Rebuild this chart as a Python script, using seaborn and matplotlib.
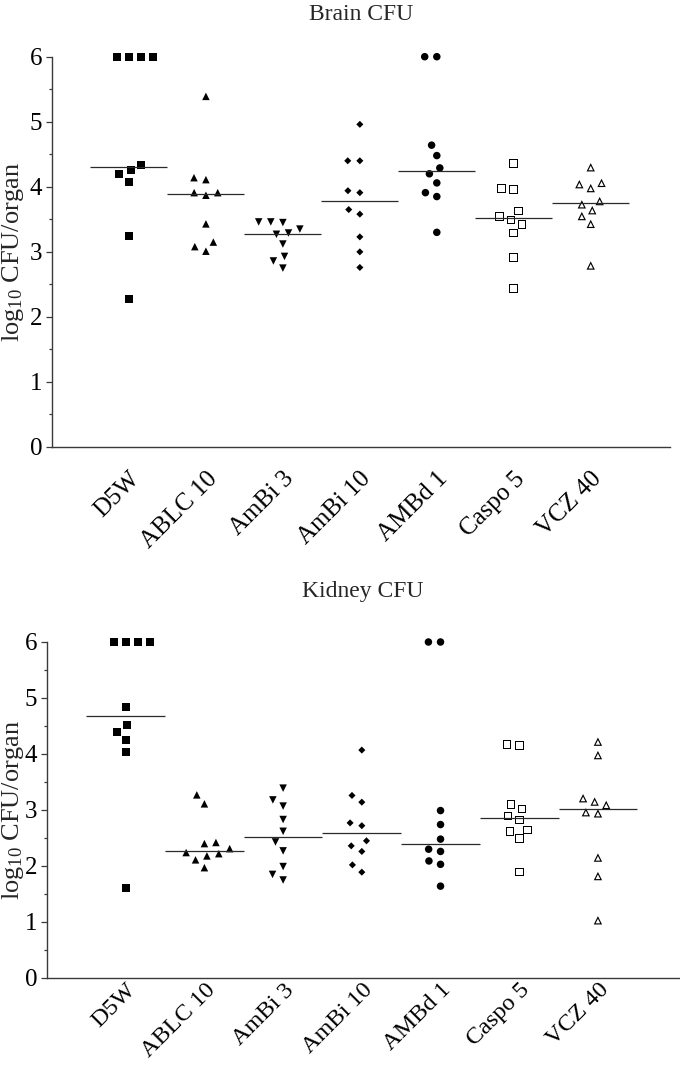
import numpy as np
import matplotlib
matplotlib.use("Agg")
import matplotlib.pyplot as plt
from matplotlib.path import Path
from matplotlib.markers import MarkerStyle
from matplotlib.ticker import MultipleLocator
import seaborn as sns

# ---------------- data (log10 CFU/organ) ----------------
categories = ["D5W", "ABLC 10", "AmBi 3", "AmBi 10", "AMBd 1", "Caspo 5", "VCZ 40"]

brain_cfu = [
    [6.0, 6.0, 6.0, 6.0, 4.34, 4.26, 4.19, 4.08, 3.24, 2.27],      # D5W
    [5.39, 4.14, 4.11, 3.91, 3.87, 3.91, 3.43, 3.15, 3.08, 3.01],  # ABLC 10
    [3.46, 3.46, 3.45, 3.35, 3.27, 3.29, 3.12, 2.93, 2.86, 2.75],  # AmBi 3
    [4.96, 4.40, 4.40, 3.91, 3.94, 3.65, 3.58, 3.23, 3.00, 2.76],  # AmBi 10
    [6.0, 6.0, 4.64, 4.48, 4.29, 4.20, 4.06, 3.91, 3.85, 3.30],    # AMBd 1
    [4.36, 3.96, 3.97, 3.63, 3.54, 3.49, 3.42, 3.29, 2.91, 2.44],  # Caspo 5
    [4.30, 4.04, 3.98, 4.06, 3.78, 3.73, 3.64, 3.55, 3.43, 2.79],  # VCZ 40
]

kidney_cfu = [
    [6.0, 6.0, 6.0, 6.0, 4.84, 4.51, 4.39, 4.25, 4.04, 1.60],      # D5W
    [3.27, 3.11, 2.31, 2.40, 2.42, 2.22, 2.18, 2.24, 2.11, 1.97],  # ABLC 10
    [3.39, 3.18, 3.07, 2.83, 2.62, 2.43, 2.27, 1.99, 1.85, 1.75],  # AmBi 3
    [4.07, 3.26, 3.14, 2.72, 2.77, 2.45, 2.36, 2.26, 2.02, 1.89],  # AmBi 10
    [6.0, 6.0, 2.99, 2.74, 2.48, 2.26, 2.30, 2.09, 2.03, 1.64],    # AMBd 1
    [4.15, 4.17, 3.10, 3.02, 2.89, 2.82, 2.62, 2.64, 2.49, 1.89],  # Caspo 5
    [4.22, 3.98, 3.21, 3.15, 3.09, 2.96, 2.94, 2.15, 1.82, 1.03],  # VCZ 40
]

panel_titles = ["Brain CFU", "Kidney CFU"]
y_ticks = [0, 1, 2, 3, 4, 5, 6]

# ---------------- style ----------------
sns.set_style("ticks")
plt.rcParams["font.family"] = ["Liberation Serif", "DejaVu Serif"]
plt.rcParams["mathtext.fontset"] = "custom"
plt.rcParams["mathtext.rm"] = "Liberation Serif"
plt.rcParams["axes.edgecolor"] = "#3a3a3a"
plt.rcParams["ytick.color"] = "#3a3a3a"
plt.rcParams["ytick.labelcolor"] = "black"
plt.rcParams["xtick.labelcolor"] = "black"


def ring(outer, center, keep):
    """Outline-only marker path: outer polygon with a scaled inner hole."""
    outer = np.asarray(outer, float)
    inner = (center + (outer - center) * keep)[::-1]
    verts = np.vstack([outer, outer[:1], inner, inner[:1]])
    n = len(outer)
    codes = ([Path.MOVETO] + [Path.LINETO] * (n - 1) + [Path.CLOSEPOLY]) * 2
    return Path(verts, codes)


open_square = MarkerStyle(ring([(-1, -1), (1, -1), (1, 1), (-1, 1)],
                               np.array([0.0, 0.0]), 0.76))
open_triangle = MarkerStyle(ring([(0, 1), (-1, -1), (1, -1)],
                                 np.array([0.0, -0.382]), 0.55))

# (marker, visible size in pt)
marker_specs = [
    ("s", 5.8),
    ("^", 5.4),
    ("v", 5.4),
    ("D", 3.6),
    ("o", 5.4),
    (open_square, 6.2),
    (open_triangle, 6.0),
]
SWARM_D = 8.3  # pt, spacing between neighbouring points in a swarm

fig = plt.figure(figsize=(6.8, 10.66), dpi=100)
W, H = 680, 1066
TOP_PAD = 6.18  # ylim top so that markers at 6 are not clipped
axes_px = [(52, 670, 56.7, 447), (47, 679, 642, 978)]
title_px = [(361, 15), (363, 592)]
xlabel_pad = [15, 1]
xlabel_size = [18, 17.5]

for p, (values, title) in enumerate(zip([brain_cfu, kidney_cfu], panel_titles)):
    l, r, t, b = axes_px[p]
    unit = (b - t) / 6.0
    t_ext = b - unit * TOP_PAD
    ax = fig.add_axes([l / W, 1 - b / H, (r - l) / W, (b - t_ext) / H])
    for i, (vals, (mk, sz)) in enumerate(zip(values, marker_specs)):
        sns.swarmplot(x=[categories[i]] * len(vals), y=vals, order=categories,
                      marker=mk, size=sz, linewidth=SWARM_D - sz,
                      edgecolor="none", color="black", ax=ax, zorder=3)
        med = np.median(vals)
        ax.hlines(med, i - 0.5, i + 0.5, color="#2a2a2a", lw=0.9, zorder=4)

    ax.set_xlim(-1.0, 7.03)
    ax.set_ylim(0, TOP_PAD)
    ax.set_yticks(y_ticks)
    ax.yaxis.set_minor_locator(MultipleLocator(0.5))
    ax.tick_params(axis="y", which="major", length=4, width=0.9,
                   labelsize=18, pad=3)
    ax.tick_params(axis="y", which="minor", length=2.5, width=0.9)
    ax.set_xticks(range(len(categories)))
    ax.set_xticklabels(categories, rotation=45, ha="right", va="top",
                       rotation_mode="anchor")
    ax.tick_params(axis="x", length=0, labelsize=xlabel_size[p],
                   pad=xlabel_pad[p])
    ax.set_xlabel("")
    ax.set_ylabel(r"$\mathregular{log_{10}}$ CFU/organ", fontsize=19)
    ax.yaxis.set_label_coords((26 - l) / (r - l), 6.0 / TOP_PAD / 2)
    for s in ax.spines.values():
        s.set_linewidth(1.0)
    sns.despine(ax=ax)
    ax.spines["left"].set_bounds(0, 6)
    fig.text(title_px[p][0] / W, 1 - title_px[p][1] / H, title,
             ha="center", va="center", fontsize=17)

fig.savefig("out.png", dpi=100)
